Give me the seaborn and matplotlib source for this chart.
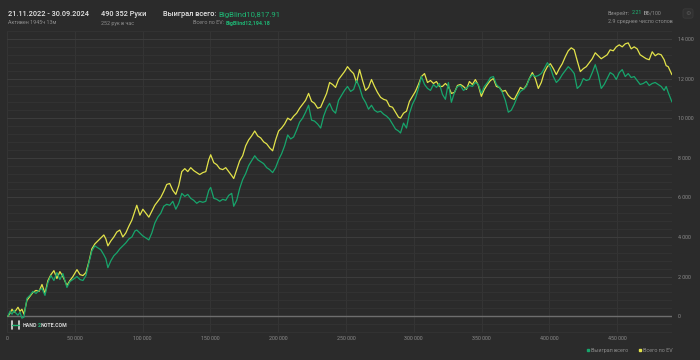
import matplotlib
matplotlib.use("Agg")
import matplotlib.pyplot as plt
import matplotlib.ticker as mticker
from matplotlib.lines import Line2D
import numpy as np
import pandas as pd
import seaborn as sns

# hands played (thousands) and cumulative results in big blinds
hands_k = [
    0.7, 2.2, 3.7, 5.2, 6.6, 8.1, 9.6, 11.0, 12.5, 14.7, 16.9, 19.1, 21.4, 23.6, 25.8, 28.0,
    30.2, 32.4, 34.6, 36.8, 39.0, 41.2, 44.2, 46.4, 48.6, 51.6, 53.8, 56.0, 58.2, 60.4, 62.6,
    64.8, 67.0, 69.2, 71.4, 72.9, 74.4, 76.6, 78.8, 81.0, 83.2, 85.4, 87.6, 89.9, 92.1, 94.3,
    95.7, 98.0, 100.2, 102.4, 104.6, 106.8, 109.0, 111.2, 113.4, 115.6, 117.8, 120.0, 122.3,
    124.5, 126.7, 128.9, 131.1, 133.3, 135.5, 137.7, 139.9, 142.1, 144.4, 146.6, 148.8, 150.2,
    152.5, 154.7, 156.9, 159.1, 161.3, 163.5, 165.7, 167.2, 169.4, 171.6, 173.8, 176.0, 178.2,
    180.4, 182.7, 184.9, 187.1, 189.3, 191.5, 193.7, 195.9, 198.1, 200.3, 202.5, 204.7, 207.0,
    209.2, 211.4, 213.6, 215.8, 218.0, 220.2, 222.4, 224.6, 226.8, 229.1, 231.3, 233.5, 235.7,
    237.9, 240.1, 242.3, 244.5, 246.7, 248.9, 251.1, 253.4, 255.6, 257.8, 260.0, 262.2, 264.4,
    266.6, 268.8, 271.0, 273.2, 275.5, 277.7, 279.9, 282.1, 284.3, 286.5, 288.7, 290.2, 292.4,
    294.6, 296.8, 299.0, 301.2, 303.4, 305.6, 307.9, 310.1, 312.3, 314.5, 316.7, 318.9, 321.1,
    323.3, 325.5, 327.7, 330.0, 332.2, 334.4, 336.6, 338.8, 341.0, 343.2, 345.4, 347.6, 349.8,
    352.0, 354.3, 356.5, 358.7, 360.9, 363.1, 365.3, 367.5, 369.7, 371.9, 374.1, 376.4, 378.6,
    380.8, 383.0, 385.2, 387.4, 389.6, 391.8, 394.0, 396.2, 398.5, 400.7, 402.9, 405.1, 407.3,
    409.5, 411.7, 413.9, 416.1, 418.3, 420.5, 422.8, 425.0, 427.2, 429.4, 431.6, 433.8, 436.0,
    438.2, 440.4, 442.6, 444.8, 447.1, 449.3, 451.5, 453.7, 455.9, 458.1, 460.3, 462.5, 464.7,
    466.9, 469.2, 471.4, 473.6, 475.8, 478.0, 480.2, 482.4, 484.6, 486.1, 487.6, 490.35,
]
won = [
    0, 250, 100, 300, 150, 50, 200, -100, -50, 900, 1050, 1250, 1150, 1300, 1400, 1050,
    1700, 2050, 1800, 2200, 1850, 2150, 1450, 1750, 1850, 2000, 1850, 1800, 2050, 2700, 3300,
    3550, 3450, 3350, 3100, 2900, 2450, 2800, 3050, 3200, 3400, 3550, 3700, 3900, 4000, 4300,
    4350, 4200, 4050, 3950, 3850, 4200, 4700, 5000, 5200, 5550, 5650, 5600, 5800,
    5400, 5700, 6200, 6050, 6150, 5950, 5850, 5700, 5800, 5750, 5800, 6350, 6500,
    5950, 5900, 5800, 5900, 5850, 6100, 6200, 5550, 5850, 6450, 6900, 7200, 7600,
    7850, 8100, 7900, 7800, 7700, 7500, 7400, 7250, 7500, 7900, 8200, 8600, 9150,
    8950, 9050, 9400, 9800, 10000, 10300, 10650, 9900, 9850, 9700, 9500, 10100, 10500,
    10750, 10400, 10250, 10900, 11150, 11400, 11600, 11350, 11450, 11900, 11550, 11050, 10800,
    10450, 10650, 10400, 10300, 10350, 10200, 10100, 9950, 9700, 9450, 9350, 9250, 9750,
    9500, 10250, 10700, 11000, 11500, 12100, 11700, 11500, 11400, 11700, 11550, 11750, 11200,
    10950, 11800, 10800, 11300, 11600, 11650, 11400, 11500, 11650, 11600, 11800, 11700, 11250,
    11600, 11800, 12050, 12100, 11700, 11550, 11300, 10900, 10300, 10400, 10700, 11100, 11350,
    11450, 11600, 12000, 12200, 12100, 12150, 12250, 12500, 12800, 12550, 12100, 11800, 11950,
    12200, 12400, 12600, 12450, 12250, 11500, 11650, 12000, 11900, 11950, 12300, 12700, 12200,
    11500, 11700, 12000, 12300, 12200, 11950, 12300, 12450, 12100, 12250, 12050, 12100, 11900,
    11700, 11750, 11850, 11650, 11750, 11800, 11700, 11600, 11400, 11600, 11300, 10817.91,
]
ev = [
    0, 150, 350, 200, 300, 450, 250, 350, 100, 800, 1000, 1200, 1300, 1250, 1600, 1150,
    1800, 2100, 2300, 1900, 2250, 2000, 1550, 1800, 2000, 2350, 2100, 2050, 2200, 2750, 3400,
    3650, 3800, 3950, 4100, 3900, 3550, 3800, 4000, 4250, 4350, 4000, 4200, 4550, 4850, 5300,
    5600, 5100, 5400, 5200, 5000, 5300, 5600, 5800, 6000, 6300, 6650, 6700, 6350,
    6150, 6600, 7300, 7450, 7300, 7500, 7350, 7250, 7150, 7250, 7300, 7900, 8150,
    7750, 7650, 7450, 7400, 7500, 7300, 7100, 6950, 7400, 7850, 8100, 8600, 8900,
    9100, 9350, 9100, 9000, 8800, 8700, 8500, 8350, 8900, 9350, 9500, 9700, 10000,
    9900, 10100, 10250, 10500, 10700, 10900, 11250, 10850, 10750, 10500, 10550, 10900, 11250,
    11800, 11700, 11550, 11950, 12150, 12350, 12600, 12400, 12250, 11800, 12450, 11900, 11400,
    11550, 11950, 11600, 11300, 11050, 10950, 10900, 10600, 10550, 10300, 10050, 10000, 10250,
    10350, 10850, 11100, 11350, 11700, 12100, 12250, 11800, 11900, 11750, 11850, 11600, 11600,
    11750, 11600, 11250, 11300, 11650, 11700, 11600, 11450, 11850, 11700, 11950, 11650, 11100,
    11450, 11700, 11900, 12000, 11600, 11550, 11350, 11400, 11150, 11000, 10950, 11250, 11550,
    11450, 11650, 12000, 12300, 12000, 11500, 11800, 12300, 12600, 12750, 12500, 12200, 12500,
    12750, 13100, 13400, 13550, 13450, 12900, 12350, 12500, 12600, 12800, 13000, 13300, 13150,
    13000, 13100, 13200, 13450, 13400, 13600, 13700, 13600, 13750, 13800, 13500, 13600, 13500,
    13200, 13100, 13000, 12950, 13350, 13150, 13250, 13200, 12950, 12650, 12600, 12194.18,
]

series_names = ["Выиграл всего", "Всего по EV"]
series_colors = ["#17a56c", "#e3e34a"]

y_ticks = list(range(0, 14001, 2000))
x_ticks = list(range(0, 450001, 50000))

bg = "#2b2b2b"
txt_gray = "#8c8c8c"
txt_white = "#e6e6e6"
green_txt = "#1fb574"

df = pd.DataFrame({
    "hands": np.array(hands_k * 2) * 1000,
    "bb": won + ev,
    "series": [series_names[0]] * len(won) + [series_names[1]] * len(ev),
})

sns.set_theme(style="dark", rc={"axes.facecolor": bg, "figure.facecolor": bg})
plt.rcParams["font.family"] = ["Roboto", "DejaVu Sans"]

fig = plt.figure(figsize=(7, 3.6), dpi=100)
ax = fig.add_axes([7 / 700, 1 - 333 / 360, 665 / 700, 302 / 360])

sns.lineplot(data=df, x="hands", y="bb", hue="series",
             hue_order=[series_names[1], series_names[0]],
             palette={series_names[0]: series_colors[0], series_names[1]: series_colors[1]},
             linewidth=0.9, legend=False, ax=ax, estimator=None, sort=False)

ax.set_xlim(0, 490400)
ax.set_ylim(-850, 14400)
ax.axhline(0, color="#6e6e6e", lw=1.0, zorder=1)

ax.yaxis.tick_right()
ax.set_yticks(y_ticks)
ax.yaxis.set_minor_locator(mticker.MultipleLocator(400))
ax.set_xticks(x_ticks)
fmt = mticker.FuncFormatter(lambda v, p: f"{v:,.0f}".replace(",", " "))
ax.yaxis.set_major_formatter(fmt)
ax.xaxis.set_major_formatter(fmt)
ax.tick_params(axis="both", which="both", length=0, labelsize=3.8, colors=txt_gray)
ax.tick_params(axis="y", pad=4)
ax.tick_params(axis="x", pad=2)

ax.grid(True, which="major", axis="y", color="#3c3c3c", lw=0.8)
ax.grid(True, which="minor", axis="y", color="#333333", lw=0.7)
ax.grid(True, which="major", axis="x", color="#353535", lw=0.7)
ax.set_axisbelow(True)
for s in ax.spines.values():
    s.set_visible(False)
ax.set_xlabel("")
ax.set_ylabel("")

renderer = fig.canvas.get_renderer()


def row(px, py, parts, gap=1.5):
    """Place coloured text pieces one after another on a baseline at pixel (px, py)."""
    x = px
    for s, size, color, weight in parts:
        t = fig.text(x / 700, 1 - py / 360, s, fontsize=size, color=color,
                     fontweight=weight, ha="left", va="baseline")
        x = t.get_window_extent(renderer).x1 + gap
    return x


row(8, 16.5, [("21.11.2022 - 30.09.2024", 5.3, txt_white, "medium")])
row(8, 24.5, [("Активен 1945ч 13м", 3.9, txt_gray, "normal")])
row(101, 16.5, [("490 352 Руки", 5.3, txt_white, "medium")])
row(101, 24.5, [("252 рук в час", 3.9, txt_gray, "normal")])
row(163, 16.5, [("Выиграл всего:", 5.3, txt_white, "medium"),
                ("BigBlind10,817.91", 5.6, green_txt, "normal")])
row(193, 24.5, [("Всего по EV:", 3.9, txt_gray, "normal"),
                ("BigBlind12,194.18", 3.9, green_txt, "bold")])
row(608, 14.5, [("Винрейт:", 3.9, txt_gray, "normal"),
                ("2.21", 3.9, green_txt, "normal"),
                ("ББ/100", 3.9, txt_gray, "normal")])
row(608, 23.5, [("2.9 среднее число столов", 3.9, txt_gray, "normal")])
fig.text(688 / 700, 1 - 13.5 / 360, "\u2699", fontsize=4.5, color="#5a5a5a",
         family=["DejaVu Sans"], ha="center", va="center",
         bbox=dict(boxstyle="round,pad=0.35", fc="#303030", ec="#3a3a3a", lw=0.6))

# logo
fig.add_artist(Line2D([12 / 700, 12 / 700], [1 - 321 / 360, 1 - 329 / 360], color="#dddddd", lw=1.2))
fig.add_artist(Line2D([19 / 700, 19 / 700], [1 - 321 / 360, 1 - 329 / 360], color="#dddddd", lw=1.2))
fig.add_artist(Line2D([12 / 700, 19 / 700], [1 - 325 / 360, 1 - 325 / 360], color="#1fb574", lw=1.0))
row(23, 327, [("HAND", 3.8, "#d8d8d8", "bold"),
              ("2", 3.8, green_txt, "bold"),
              ("NOTE.COM", 3.8, "#d8d8d8", "bold")], gap=0.2)

# legend
handles = [Line2D([], [], ls="", marker="s", markersize=1.8, color=c) for c in series_colors]
fig.legend(handles, series_names, loc="center right", bbox_to_anchor=(675 / 700, 1 - 350.5 / 360),
           ncol=2, frameon=False, fontsize=3.9, labelcolor=txt_gray, handletextpad=0.2,
           columnspacing=2.0, handlelength=0.6, borderaxespad=0)

fig.savefig("out.png", dpi=100, facecolor=bg)
